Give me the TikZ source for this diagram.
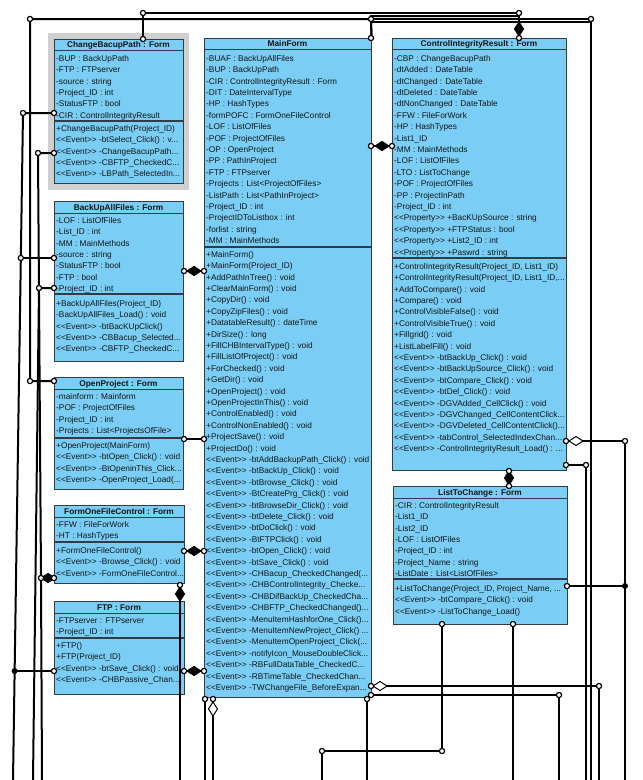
\documentclass[tikz,border=0pt]{standalone}
\usepackage{fontspec}
\setmainfont{Liberation Sans}
\usetikzlibrary{fit,calc}
\definecolor{clsfill}{RGB}{122,206,245}
\definecolor{clsline}{RGB}{50,60,70}
\definecolor{txtcol}{RGB}{20,20,20}
\definecolor{selgray}{RGB}{208,208,208}
\newcommand\rs{\rule[-2.7pt]{0pt}{11.4pt}}
\newcommand\EV{<{}<Event>{}> }
\newcommand\PR{<{}<Property>{}> }
% class box: name, left, top, right, bottom, title bottom, separator, title
\newcommand\classbox[8]{%
  \node[clsbox, fit={(#2,#3) (#4,#5)}] (#1) {};
  \draw[clsline, line width=0.8pt] (#2,#6) -- (#4,#6);
  \draw[clsline, line width=1.1pt] (#2,#7) -- (#4,#7);
  \node[ttl] (#1-t) at ({(#2+#4)/2},{(#3+#6)/2+3}) {#8};
}
\newcommand\pin[1]{\filldraw[fill=white, draw=black, line width=1.2pt] #1 circle (2.6pt);}
\newcommand\jdot[1]{\fill[black] #1 circle (3pt);}
% diamonds: centre, fill colour
\newcommand\hdia[2]{\filldraw[fill=#2, draw=black, line width=1pt] ($#1+(-7,0)$) -- ($#1+(0,-4.5)$) -- ($#1+(7,0)$) -- ($#1+(0,4.5)$) -- cycle;}
\newcommand\vdia[2]{\filldraw[fill=#2, draw=black, line width=1pt] ($#1+(0,-7)$) -- ($#1+(-4.5,0)$) -- ($#1+(0,7)$) -- ($#1+(4.5,0)$) -- cycle;}
\begin{document}
\begin{tikzpicture}[x=1pt,y=-1pt,
  clsbox/.style={draw=clsline, fill=clsfill, line width=0.9pt, inner sep=0pt, rectangle},
  ttl/.style={anchor=base, inner sep=0pt, text=txtcol, font=\fontsize{8.3}{10}\selectfont\bfseries},
  rows/.style={anchor=north west, align=left, inner sep=0pt, text=txtcol, font=\fontsize{8.3}{11.4}\selectfont},
  conn/.style={line width=2pt, black}]
\useasboundingbox (0,0) rectangle (643,780);
\fill[white] (0,0) rectangle (643,780);
\fill[selgray] (48,33) rectangle (189,190);

\classbox{cbp}{54}{39}{183}{183}{50}{121}{ChangeBacupPath : Form}
\node[rows] (cbp-a) at (56,52.3) {\rs -BUP : BackUpPath\\ \rs -FTP : FTPserver\\ \rs -source : string\\ \rs -Project\_ID : int\\ \rs -StatusFTP : bool\\ \rs -CIR : ControlIntegrityResult};
\node[rows] (cbp-o) at (56,122.3) {\rs +ChangeBacupPath(Project\_ID)\\ \rs \EV-btSelect\_Click() : v...\\ \rs \EV-ChangeBacupPath...\\ \rs \EV-CBFTP\_CheckedC...\\ \rs \EV-LBPath\_SelectedIn...};

\classbox{buaf}{54}{201}{183}{361}{213}{294}{BackUpAllFiles : Form}
\node[rows] (buaf-a) at (56,214.3) {\rs -LOF : ListOfFiles\\ \rs -List\_ID : int\\ \rs -MM : MainMethods\\ \rs -source : string\\ \rs -StatusFTP : bool\\ \rs -FTP : bool\\ \rs -Project\_ID : int};
\node[rows] (buaf-o) at (56,297.3) {\rs +BackUpAllFiles(Project\_ID)\\ \rs -BackUpAllFiles\_Load() : void\\ \rs \EV-btBacKUpClick()\\ \rs \EV-CBBacup\_Selected...\\ \rs \EV-CBFTP\_CheckedC...};

\classbox{op}{54}{377}{183}{489}{389}{438}{OpenProject : Form}
\node[rows] (op-a) at (56,390.3) {\rs -mainform : Mainform\\ \rs -POF : ProjectOfFiles\\ \rs -Project\_ID : int\\ \rs -Projects : List<ProjectsOfFile>};
\node[rows] (op-o) at (56,439.3) {\rs +OpenProject(MainForm)\\ \rs \EV-btOpen\_Click() : void\\ \rs \EV-BtOpeninThis\_Click...\\ \rs \EV-OpenProject\_Load(...};

\classbox{fofc}{54}{505}{184}{583}{517}{542}{FormOneFileControl : Form}
\node[rows] (fofc-a) at (56,518.3) {\rs -FFW : FileForWork\\ \rs -HT : HashTypes};
\node[rows] (fofc-o) at (56,544.3) {\rs +FormOneFileControl()\\ \rs \EV-Browse\_Click() : void\\ \rs \EV-FormOneFileControl...};

\classbox{ftp}{54}{601}{184}{694}{613}{638}{FTP : Form}
\node[rows] (ftp-a) at (56,614.3) {\rs -FTPserver : FTPserver\\ \rs -Project\_ID : int};
\node[rows] (ftp-o) at (56,639.3) {\rs +FTP()\\ \rs +FTP(Project\_ID)\\ \rs \EV-btSave\_Click() : void\\ \rs \EV-CHBPassive\_Chan...};

\classbox{mf}{204}{38}{371}{697}{49}{247}{MainForm}
\node[rows] (mf-a) at (206,52.3) {\rs -BUAF : BackUpAllFiles\\ \rs -BUP : BackUpPath\\ \rs -CIR : ControlIntegrityResult : Form\\ \rs -DIT : DateIntervalType\\ \rs -HP : HashTypes\\ \rs -formPOFC : FormOneFileControl\\ \rs -LOF : ListOfFiles\\ \rs -POF : ProjectOfFiles\\ \rs -OP : OpenProject\\ \rs -PP : PathInProject\\ \rs -FTP : FTPserver\\ \rs -Projects : List<ProjectOfFiles>\\ \rs -ListPath : List<PathInProject>\\ \rs -Project\_ID : int\\ \rs -ProjectIDToListbox : int\\ \rs -forlist : string\\ \rs -MM : MainMethods};
\node[rows] (mf-o) at (206,248.3) {\rs +MainForm()\\ \rs +MainForm(Project\_ID)\\ \rs +AddPathInTree() : void\\ \rs +ClearMainForm() : void\\ \rs +CopyDir() : void\\ \rs +CopyZipFiles() : void\\ \rs +DatatableResult() : dateTime\\ \rs +DirSize() : long\\ \rs +FillCHBIntervalType() : void\\ \rs +FillListOfProject() : void\\ \rs +ForChecked() : void\\ \rs +GetDir() : void\\ \rs +OpenProject() : void\\ \rs +OpenProjectInThis() : void\\ \rs +ControlEnabled() : void\\ \rs +ControlNonEnabled() : void\\ \rs +ProjectSave() : void\\ \rs +ProjectDo() : void\\ \rs \EV-btAddBackupPath\_Click() : void\\ \rs \EV-btBackUp\_Click() : void\\ \rs \EV-btBrowse\_Click() : void\\ \rs \EV-BtCreatePrg\_Click() : void\\ \rs \EV-btBrowseDir\_Click() : void\\ \rs \EV-btDelete\_Click() : void\\ \rs \EV-btDoClick() : void\\ \rs \EV-BtFTPClick() : void\\ \rs \EV-btOpen\_Click() : void\\ \rs \EV-btSave\_Click() : void\\ \rs \EV-CHBacup\_CheckedChanged(...\\ \rs \EV-CHBControlIntegrity\_Checke...\\ \rs \EV-CHBDifBackUp\_CheckedCha...\\ \rs \EV-CHBFTP\_CheckedChanged()...\\ \rs \EV-MenuItemHashforOne\_Click()...\\ \rs \EV-MenuItemNewProject\_Click() ...\\ \rs \EV-MenuItemOpenProject\_Click(...\\ \rs \EV-notifyIcon\_MouseDoubleClick...\\ \rs \EV-RBFullDataTable\_CheckedC...\\ \rs \EV-RBTimeTable\_CheckedChan...\\ \rs \EV-TWChangeFile\_BeforeExpan...};

\classbox{cir}{392}{38}{566}{470}{49}{258}{ControlIntegrityResult : Form}
\node[rows] (cir-a) at (394,52.3) {\rs -CBP : ChangeBacupPath\\ \rs -dtAdded : DateTable\\ \rs -dtChanged : DateTable\\ \rs -dtDeleted : DateTable\\ \rs -dtNonChanged : DateTable\\ \rs -FFW : FileForWork\\ \rs -HP : HashTypes\\ \rs -List1\_ID\\ \rs -MM : MainMethods\\ \rs -LOF : ListOfFiles\\ \rs -LTO : ListToChange\\ \rs -POF : ProjectOfFiles\\ \rs -PP : ProjectInPath\\ \rs -Project\_ID : int\\ \rs \PR+BacKUpSource : string\\ \rs \PR+FTPStatus : bool\\ \rs \PR+List2\_ID : int\\ \rs \PR+Paswrd : string};
\node[rows] (cir-o) at (394,260.3) {\rs +ControlIntegrityResult(Project\_ID, List1\_ID)\\ \rs +ControlIntegrityResult(Project\_ID, List1\_ID,...\\ \rs +AddToCompare() : void\\ \rs +Compare() : void\\ \rs +ControlVisibleFalse() : void\\ \rs +ControlVisibleTrue() : void\\ \rs +Fillgrid() : void\\ \rs +ListLabelFill() : void\\ \rs \EV-btBackUp\_Click() : void\\ \rs \EV-btBackUpSource\_Click() : void\\ \rs \EV-btCompare\_Click() : void\\ \rs \EV-btDel\_Click() : void\\ \rs \EV-DGVAdded\_CellClick() : void\\ \rs \EV-DGVChanged\_CellContentClick...\\ \rs \EV-DGVDeleted\_CellContentClick()...\\ \rs \EV-tabControl\_SelectedIndexChan...\\ \rs \EV-ControlIntegrityResult\_Load() : ...};

\classbox{ltc}{393}{486}{567}{624}{498}{579}{ListToChange : Form}
\node[rows] (ltc-a) at (395,499.3) {\rs -CIR : ControlIntegrityResult\\ \rs -List1\_ID\\ \rs -List2\_ID\\ \rs -LOF : ListOfFiles\\ \rs -Project\_ID : int\\ \rs -Project\_Name : string\\ \rs -ListDate : List<ListOfFiles>};
\node[rows] (ltc-o) at (395,582.3) {\rs +ListToChange(Project\_ID, Project\_Name, ...\\ \rs \EV-btCompare\_Click() : void\\ \rs \EV-ListToChange\_Load()};

% free ends at the bottom edge
\foreach \n/\x in {b13/13,b33/33,b42/42,b180/180,b205/205,b213/213,b322/322,b367/367,b513/513,b559/559,b586/586,b591/591,b599/599,b625/625}
  \coordinate (\n) at (\x,780);

% ---- connectors ----
% top
\draw[conn] (cbp.north -| 143,0) -- (143,13) -- (519,13) -- (cir.north -| 519,0);
\draw[conn] (mf.north east) -- (371,16) -- (519,16);
\draw[conn] (mf.north east) -- (371,19) -- (30,19) -- (30,381) -- (op.west |- 0,381);
\draw[conn] (371,19) -- (591,19) -- (b591);
\draw[conn] (371,21.5) -- (591,21.5);
% left
\draw[conn] (cbp.west |- 0,113) -- (23,113) -- (b13);
\draw[conn] (buaf.west |- 0,258) -- (20.8,258);
\draw[conn] (cbp.west |- 0,153) -- (38,153) -- (41,578);
\draw[conn] (buaf.west |- 0,288) -- (39,288) -- (b33);
\draw[conn] (fofc.west |- 0,578) -- (41,578) -- (b42);
\draw[conn] (ftp.west |- 0,671) -- (14.6,671);
% between columns
\draw[conn] (buaf.east |- 0,271) -- (mf.west |- 0,271);
\draw[conn] (op.east |- 0,439) -- (mf.west |- 0,439);
\draw[conn] (fofc.east |- 0,551) -- (mf.west |- 0,551);
\draw[conn] (ftp.east |- 0,671) -- (mf.west |- 0,671);
\draw[conn] (fofc.south -| 180,0) -- (b180);
\draw[conn] (mf.east |- 0,146) -- (cir.west |- 0,146);
\draw[conn] (cir.south -| 509,0) -- (ltc.north -| 509,0);
% bottom of MainForm
\draw[conn] (mf.south -| 205,0) -- (b205);
\draw[conn] (mf.south -| 213,0) -- (b213);
\draw[conn] (mf.south -| 367,0) -- (b367);
\draw[conn] (mf.east |- 0,686) -- (599,686) -- (b599);
\draw[conn] (mf.east |- 0,695) -- (559,695) -- (b559);
% right
\draw[conn] (ltc.south -| 442,0) -- (442,751) -- (322,751) -- (b322);
\draw[conn] (ltc.south -| 513,0) -- (b513);
\draw[conn] (cir.east |- 0,441) -- (625,441) -- (b625);
\draw[conn] (ltc.east |- 0,586) -- (625,586);
\draw[conn] (cir.east |- 0,465) -- (586,465) -- (b586);

% ---- diamonds ----
\vdia{(519,29)}{black}
\hdia{(382,146)}{black}
\hdia{(194,271)}{black}
\hdia{(194,551)}{black}
\hdia{(194,671)}{black}
\hdia{(48,578)}{black}
\vdia{(180,594)}{black}
\vdia{(509,478)}{black}
\hdia{(576,441)}{white}
\hdia{(380,686)}{white}
\vdia{(213,709)}{white}

% ---- end pins ----
\foreach \p in {(143,39),(143,13),(519,13),(519,38),(371,38),(371,19),(30,19),(30,381),(54,381),(591,19),
  (54,113),(23,113),(54,258),(20.8,258),(54,153),(38,153),(54,288),(39,288),(54,578),(41,578),(54,671),
  (184,271),(204,271),(184,439),(204,439),(184,551),(204,551),(184,671),(204,671),(180,585),
  (371,146),(392,146),(509,471),(509,486),(205,699),(213,699),(367,699),(371,686),(371,695),
  (599,686),(559,695),(442,624),(442,751),(322,751),(513,624),(566,441),(625,441),(567,586),(566,465),(586,465)}
  {\pin{\p}}
\jdot{(14.6,671)}
\jdot{(625,586)}
\end{tikzpicture}
\end{document}
